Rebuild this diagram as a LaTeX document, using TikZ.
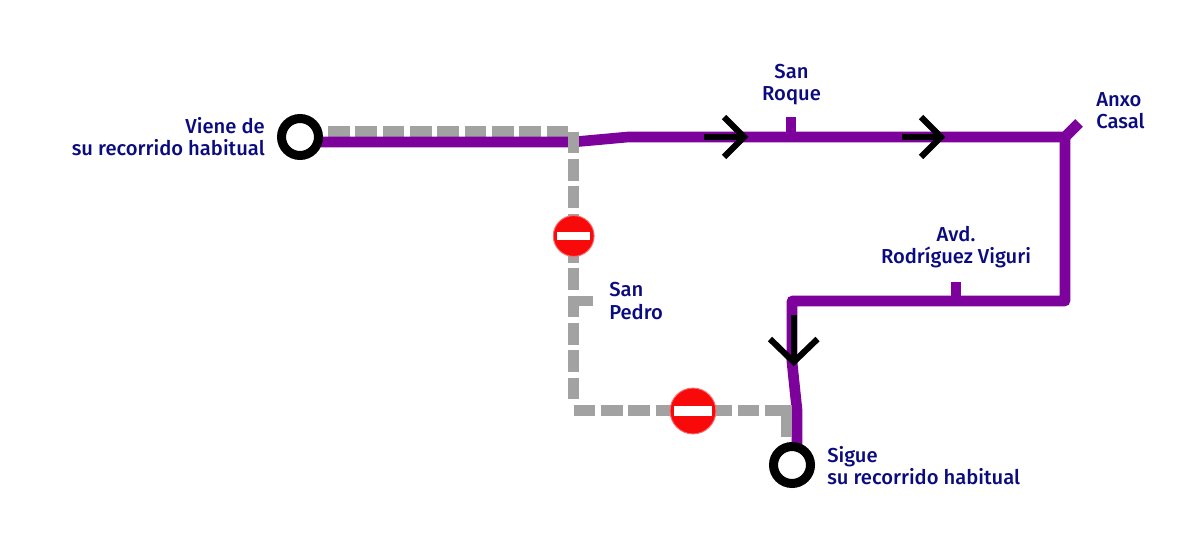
\documentclass[tikz,border=0pt]{standalone}
\usepackage{fontspec}
\setmainfont{Fira Sans Medium}
\definecolor{routeP}{HTML}{7D029B}
\definecolor{detourG}{HTML}{A2A2A2}
\definecolor{labelN}{HTML}{0B0B80}
\definecolor{signR}{HTML}{F80A0A}
\tikzset{
  x=0.75pt,y=-0.75pt,
  route/.style={draw=routeP,line width=8pt,line join=round},
  detour/.style={draw=detourG,line width=8pt,dash pattern=on 16.3pt off 4.2pt},
  detoursolid/.style={draw=detourG,line width=8pt},
  flow/.style={draw=black,line width=4.6pt,line join=miter},
  terminus/.style={circle,draw=black,fill=white,line width=6.75pt,minimum size=27.75pt,inner sep=0pt},
  stopsign/.style={circle,fill=signR,draw=signR!60!white,line width=0.7pt,inner sep=0pt},
  stoplarge/.style={stopsign,minimum size=34.4pt},
  stopsmall/.style={stopsign,minimum size=30.6pt},
  stopbar/.style={fill=white,inner sep=0pt},
  lbl/.style={text=labelN,font=\fontsize{15.15pt}{16.6pt}\selectfont,inner sep=0pt}
}
\begin{document}
\begin{tikzpicture}
\useasboundingbox (0,0) rectangle (1200,546);
% named points
\coordinate (pA) at (300,142);
\coordinate (pB) at (573,142);
\coordinate (pC) at (628,137);
\coordinate (pD) at (1065,137);
\coordinate (pE) at (1065,301);
\coordinate (pF) at (792,301);
\coordinate (pG) at (792,362);
\coordinate (pH) at (797,410);
\coordinate (pI) at (797,448);
\coordinate (stubA) at (1079,123);
\coordinate (tickA0) at (791,137);
\coordinate (tickA1) at (791,117);
\coordinate (tickB0) at (956,301);
\coordinate (tickB1) at (956,281.7);
\coordinate (gA) at (328,131.7);
\coordinate (gB) at (568,131.7);
\coordinate (gC) at (573.7,131.7);
\coordinate (gD) at (573.7,405);
\coordinate (gE) at (573.7,410.7);
\coordinate (gF) at (786.5,410.7);
\coordinate (gG) at (786.3,405);
\coordinate (gH) at (786.3,437);
\coordinate (gS0) at (573.7,301);
\coordinate (gS1) at (592.7,301);
% gray detour
\draw[detour] (gA) -- (gB);
\draw[route] (pA) -- (pB) -- (pC) -- (pD) (pD) -- (stubA);
\draw[route] (pD) -- (pE) -- (pF) -- (pG) -- (pH) -- (pI);
\draw[route] (tickA0) -- (tickA1);
\draw[route] (tickB0) -- (tickB1);
\draw[detour] (gC) -- (gD);
\draw[detour] (gE) -- (gF);
\draw[detoursolid] (gG) -- (gH);
\draw[detoursolid] (gS0) -- (gS1);
% termini
\node[terminus] (startT) at (300,137) {};
\node[terminus] (endT) at (792,465) {};
% flow arrows
\coordinate (a1s) at (704,137); \coordinate (a1e) at (744,137);
\coordinate (a1u) at (724,117); \coordinate (a1d) at (724,157);
\draw[flow] (a1s) -- (a1e);
\draw[flow] (a1u) -- (a1e) -- (a1d);
\coordinate (a2s) at (902,137); \coordinate (a2e) at (941,137);
\coordinate (a2u) at (921,117); \coordinate (a2d) at (921,157);
\draw[flow] (a2s) -- (a2e);
\draw[flow] (a2u) -- (a2e) -- (a2d);
\coordinate (a3s) at (793.7,315); \coordinate (a3e) at (793.7,362);
\coordinate (a3l) at (770,339); \coordinate (a3r) at (817.5,339);
\draw[flow] (a3s) -- (a3e);
\draw[flow] (a3l) -- (a3e) -- (a3r);
% signs
\node[stopsmall] (signA) at (573.7,236) {};
\node[stopbar,minimum width=24.8pt,minimum height=6.5pt] (barA) at (signA) {};
\node[stoplarge] (signB) at (693,411) {};
\node[stopbar,minimum width=27.8pt,minimum height=6.8pt] (barB) at (signB) {};
% labels
\node[lbl,align=right,anchor=east] (lViene) at (265,137) {Viene de\\su recorrido habitual};
\node[lbl,align=center] (lRoque) at (791.5,84.5) {San\\Roque};
\node[lbl,align=left,anchor=west] (lAnxo) at (1096,110.5) {Anxo\\Casal};
\node[lbl,align=center] (lAvd) at (956,247.5) {Avd.\\Rodríguez Viguri};
\node[lbl,align=left,anchor=west] (lPedro) at (609,301) {San\\Pedro};
\node[lbl,align=left,anchor=west] (lSigue) at (827,466) {Sigue\\su recorrido habitual};
\end{tikzpicture}
\end{document}
